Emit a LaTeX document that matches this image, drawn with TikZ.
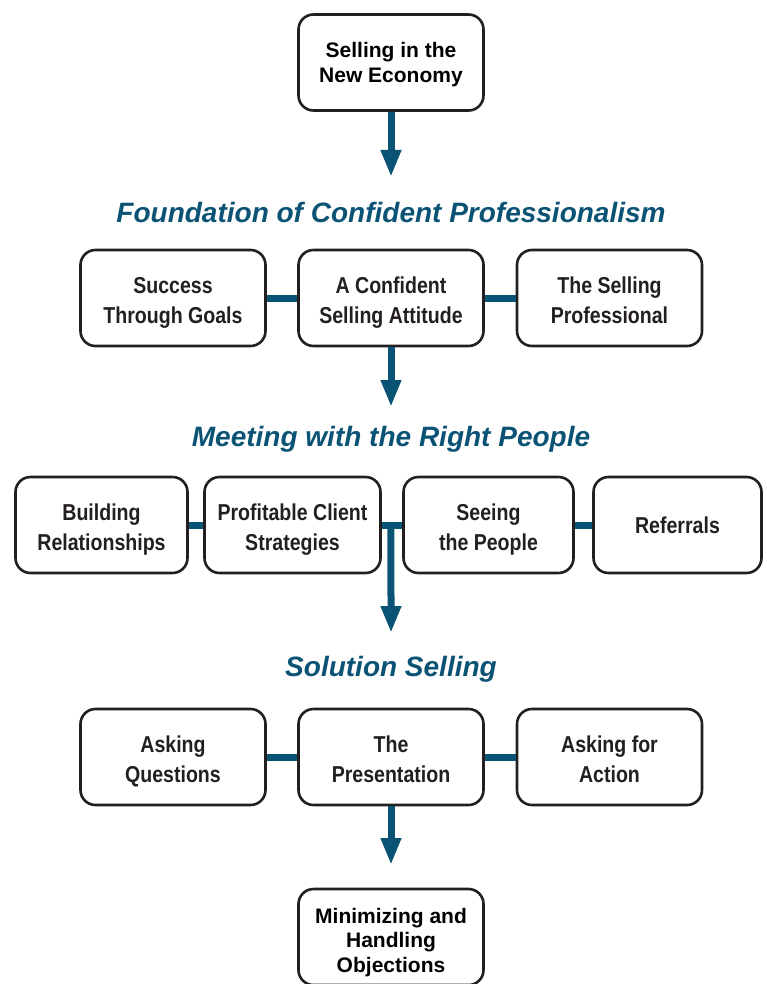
\documentclass[tikz,border=0pt]{standalone}
\usepackage{fontspec}
\setmainfont{Liberation Sans}
\newfontfamily\narrowsans[FakeStretch=0.85]{Liberation Sans}
\usetikzlibrary{calc,arrows.meta}

\definecolor{sellblue}{HTML}{0B5374}
\definecolor{boxtext}{HTML}{231F20}

\tikzset{
	box/.style={draw=boxtext, line width=2.6pt, rounded corners=15pt, fill=white,
		align=center, minimum width=185pt, minimum height=96pt, inner sep=0pt, text depth=0pt},
	topic/.style={box, text=black, text height=40pt, font=\fontsize{21}{24.5}\selectfont\bfseries},
	stage/.style={box, text=boxtext, text height=50pt, font=\narrowsans\fontsize{23}{30}\selectfont\bfseries},
	heading/.style={anchor=base, text=sellblue, font=\fontsize{28}{32}\selectfont\bfseries\itshape},
	link/.style={sellblue, line width=7pt},
	flow/.style={link, -{Triangle[width=19pt,length=27pt]}},
}

\begin{document}
\begin{tikzpicture}[x=1pt, y=-1pt]
		\useasboundingbox (0, 0) rectangle (767, 984);

		\node[topic] (economy) at (391, 62.5) {Selling in the\\New Economy};

		\node[heading] (foundation) at (391, 223) {Foundation of Confident Professionalism};
		\node[stage] (goals) at (173, 298) {Success\\Through Goals};
		\node[stage] (attitude) at (391, 298) {A Confident\\Selling Attitude};
		\node[stage] (professional) at (609.5, 298) {The Selling\\Professional};

		\node[heading] (meeting) at (391, 446) {Meeting with the Right People};
		\node[stage, minimum width=172pt] (relations) at (101.5, 525) {Building\\Relationships};
		\node[stage, minimum width=176pt] (strategies) at (292.5, 525) {Profitable Client\\Strategies};
		\node[stage, minimum width=170pt] (seeing) at (488.5, 525) {Seeing\\the People};
		\node[stage, minimum width=168pt, text height=16pt] (referrals) at (677.5, 525) {Referrals};

		\node[heading] (solution) at (391, 676) {Solution Selling};
		\node[stage] (questions) at (173, 757) {Asking\\Questions};
		\node[stage] (presentation) at (391, 757) {The\\Presentation};
		\node[stage] (action) at (609.5, 757) {Asking for\\Action};

		\node[topic, text height=70pt] (objections) at (391, 937) {Minimizing and\\Handling\\Objections};

		\coordinate (top) at (391, 177);
		\coordinate (mid) at (391, 407);
		\coordinate (join) at ($(strategies.east)!.45!(seeing.west)$);
		\coordinate (low) at (391, 633);
		\coordinate (end) at (391, 865);

		\draw[flow] (economy) -- (top);
		\draw[link] (goals) -- (attitude);
		\draw[link] (attitude) -- (professional);
		\draw[flow] (attitude) -- (mid);
		\draw[link] (relations) -- (strategies);
		\draw[link] (strategies) -- (seeing);
		\draw[link] (seeing) -- (referrals);
		\draw[flow] (join) -- (low);
		\draw[link] (questions) -- (presentation);
		\draw[link] (presentation) -- (action);
		\draw[flow] (presentation) -- (end);
	\end{tikzpicture}
\end{document}
